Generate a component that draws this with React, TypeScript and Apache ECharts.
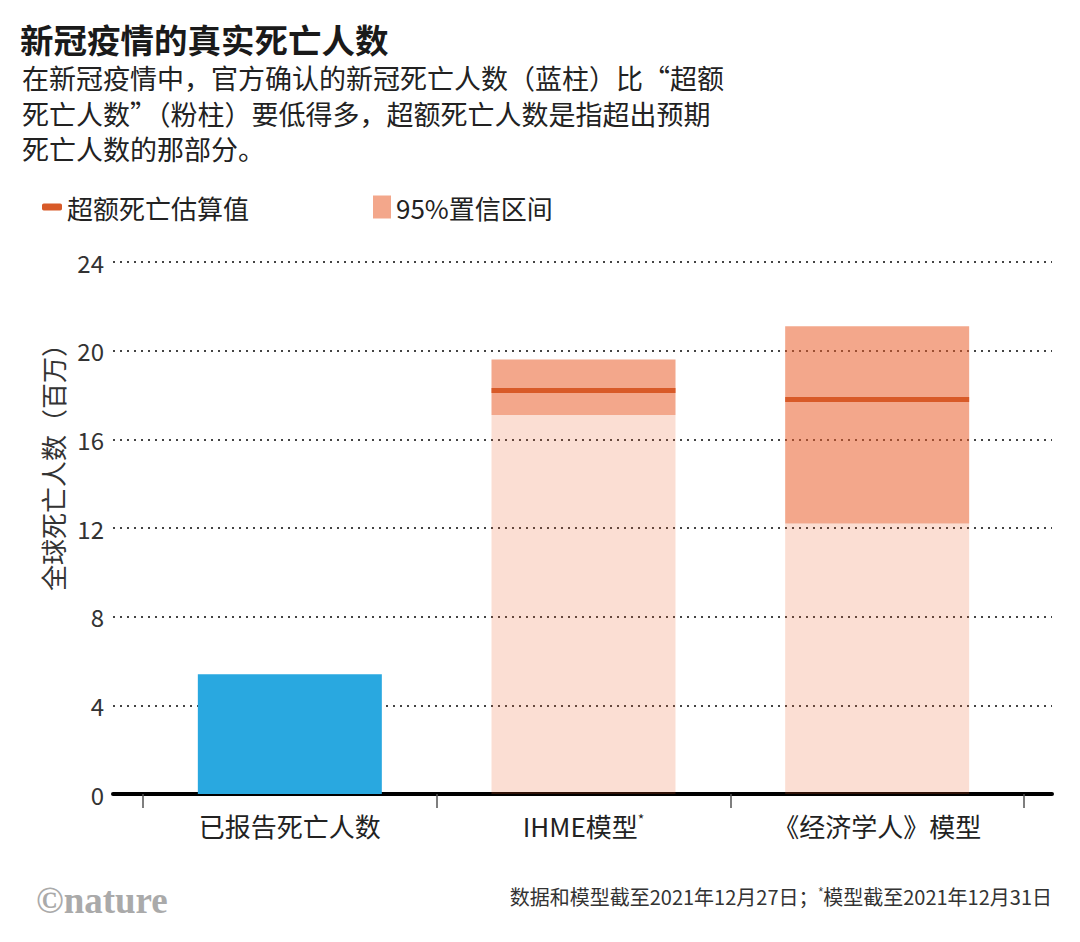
import React, { useEffect, useRef } from "react";
import * as echarts from "echarts";

const categories = ["已报告死亡人数", "IHME模型", "《经济学人》模型"];
const reportedDeaths = [5.4, null, null];
const lowerBound = [null, 17.1, 12.2];
const upperBound = [null, 19.6, 21.1];
const excessEstimate = [null, 18.2, 17.8];
const yTicks = [0, 4, 8, 12, 16, 20, 24];
const subtitleLines = [
  "在新冠疫情中，官方确认的新冠死亡人数（蓝柱）比“超额",
  "死亡人数”（粉柱）要低得多，超额死亡人数是指超出预期",
  "死亡人数的那部分。",
];

const FONT = "'Noto Sans CJK SC', 'Noto Sans', sans-serif";
const BLUE = "#29a8e0";
const LIGHT = "rgba(233,88,36,0.2)";
const DARK = "rgba(233,88,36,0.53)";
const LINE = "#d85a28";

export default function App() {
  const ref = useRef<HTMLDivElement>(null);
  useEffect(() => {
    if (!ref.current) return;
    const chart = echarts.init(ref.current, undefined, { renderer: "svg" });
    const baseData = categories.map((_, i) =>
      reportedDeaths[i] != null
        ? { value: reportedDeaths[i], itemStyle: { color: BLUE } }
        : { value: lowerBound[i], itemStyle: { color: LIGHT } }
    );
    const bandData = categories.map((_, i) =>
      upperBound[i] != null && lowerBound[i] != null
        ? +((upperBound[i] as number) - (lowerBound[i] as number)).toFixed(2)
        : "-"
    );
    const estData = categories.map((c, i) =>
      excessEstimate[i] != null ? [c, excessEstimate[i]] : ["-", "-"]
    );
    const subtitleGraphics = subtitleLines.map((t, i) => ({
      type: "text",
      x: 22,
      y: 77.5 + i * 35.5,
      style: {
        text: t,
        fontSize: 27,
        fill: "#222",
        fontFamily: FONT,
        textVerticalAlign: "middle",
      },
    }));
    const option: any = {
      animation: false,
      backgroundColor: "#ffffff",
      textStyle: { fontFamily: FONT },
      grid: [
        { left: 113, right: 28, top: 262, bottom: 148 },
        { left: 143, right: 56, top: 262, bottom: 148 },
      ],
      xAxis: [
        {
          gridIndex: 0,
          type: "value",
          min: 0,
          max: 1,
          axisLine: { show: true, lineStyle: { color: "#000", width: 4 } },
          axisTick: { show: false },
          axisLabel: { show: false },
          splitLine: { show: false },
        },
        {
          gridIndex: 1,
          type: "category",
          data: categories,
          axisLine: { show: false },
          axisTick: { show: true, length: 14, lineStyle: { color: "#555", width: 1.5 } },
          axisLabel: {
            margin: 18,
            fontSize: 26,
            color: "#222",
            fontFamily: FONT,
            formatter: (v: string) => (v === "IHME模型" ? "IHME模型{s|*}" : v),
            rich: { s: { fontSize: 14, verticalAlign: "top", padding: [0, 0, 10, 0], color: "#222" } },
          },
        },
      ],
      yAxis: [
        {
          gridIndex: 0,
          type: "value",
          min: yTicks[0],
          max: yTicks[yTicks.length - 1],
          interval: 4,
          axisLine: { show: false },
          axisTick: { show: false },
          axisLabel: { fontSize: 24, color: "#333", margin: 9, fontFamily: FONT },
          splitLine: { show: true, lineStyle: { color: "#444", width: 2, type: [2, 5] } },
        },
        {
          gridIndex: 1,
          type: "value",
          min: yTicks[0],
          max: yTicks[yTicks.length - 1],
          interval: 4,
          show: false,
          splitLine: { show: false },
        },
      ],
      legend: [
        {
          left: 37,
          top: 189,
          itemWidth: 20,
          itemHeight: 7,
          icon: "roundRect",
          data: ["超额死亡估算值"],
          textStyle: { fontSize: 26, color: "#222", fontFamily: FONT },
          selectedMode: false,
        },
        {
          left: 368,
          top: 189,
          itemWidth: 18,
          itemHeight: 23,
          icon: "rect",
          data: ["95%置信区间"],
          textStyle: { fontSize: 26, color: "#222", fontFamily: FONT },
          selectedMode: false,
        },
      ],
      series: [
        {
          name: "基数",
          type: "bar",
          xAxisIndex: 1,
          yAxisIndex: 1,
          stack: "s",
          barWidth: 184,
          data: baseData,
        },
        {
          name: "95%置信区间",
          type: "bar",
          xAxisIndex: 1,
          yAxisIndex: 1,
          stack: "s",
          barWidth: 184,
          itemStyle: { color: DARK },
          data: bandData,
        },
        {
          name: "超额死亡估算值",
          type: "scatter",
          xAxisIndex: 1,
          yAxisIndex: 1,
          symbol: "rect",
          symbolSize: [184, 5],
          itemStyle: { color: LINE, opacity: 1 },
          z: 5,
          data: estData,
        },
      ],
      graphic: [
        {
          type: "text",
          x: 20,
          y: 38,
          style: {
            text: "新冠疫情的真实死亡人数",
            fontSize: 33.5,
            fontWeight: "bold",
            fill: "#1a1a1a",
            fontFamily: FONT,
            textVerticalAlign: "middle",
          },
        },
        ...subtitleGraphics,
        {
          type: "text",
          x: 52,
          y: 461,
          rotation: Math.PI / 2,
          style: {
            text: "全球死亡人数（百万）",
            fontSize: 26,
            fill: "#333",
            fontFamily: FONT,
            textAlign: "center",
            textVerticalAlign: "middle",
          },
        },
        {
          type: "text",
          x: 1052,
          y: 896,
          style: {
            text: "数据和模型截至2021年12月27日；{s|*}模型截至2021年12月31日",
            fontSize: 20,
            fill: "#333",
            fontFamily: FONT,
            textAlign: "right",
            textVerticalAlign: "middle",
            rich: { s: { fontSize: 12, verticalAlign: "top", fill: "#333" } },
          },
        },
        {
          type: "text",
          x: 36,
          y: 900,
          style: {
            text: "©nature",
            fontSize: 37,
            fontWeight: "bold",
            fill: "#aaaaaa",
            fontFamily: "'Liberation Serif', 'DejaVu Serif', serif",
            textVerticalAlign: "middle",
          },
        },
      ],
    };
    chart.setOption(option);
    return () => chart.dispose();
  }, []);
  return (
    <div
      ref={ref}
      style={{ position: "absolute", left: 0, top: 0, width: 1080, height: 942 }}
    />
  );
}
